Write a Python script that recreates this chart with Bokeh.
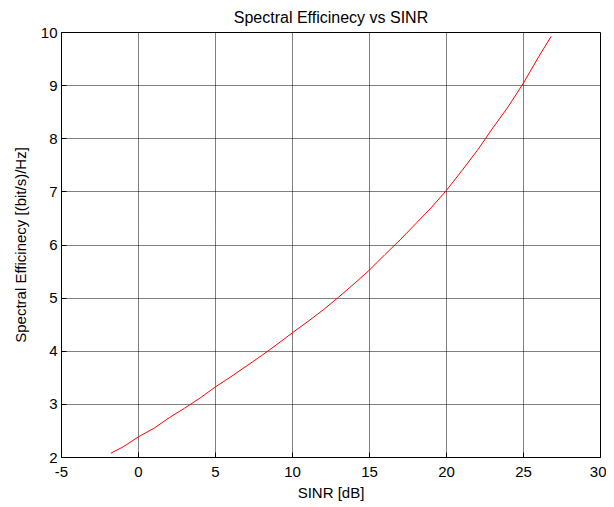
from bokeh.plotting import figure
from bokeh.models import Range1d, FixedTicker, CustomJSTickFormatter
from bokeh.embed import file_html
from bokeh.resources import INLINE

# Data
sinr_db = [-1.8, -1, 0, 1, 2, 3, 4, 5, 6, 7, 8, 9, 10, 11, 12, 13, 14, 15,
           16, 17, 18, 19, 20, 21, 22, 23, 24, 25, 26, 26.8]
spectral_eff = [2.08, 2.2, 2.39, 2.55, 2.75, 2.93, 3.12, 3.33, 3.52, 3.72,
                3.92, 4.13, 4.35, 4.56, 4.78, 5.02, 5.27, 5.53, 5.82, 6.1,
                6.4, 6.7, 7.03, 7.4, 7.78, 8.2, 8.6, 9.05, 9.55, 9.93]
x_ticks = [-5, 0, 5, 10, 15, 20, 25, 30]
y_ticks = [2, 3, 4, 5, 6, 7, 8, 9, 10]

FONT = "Liberation Sans"
FS = "15px"

p = figure(width=606, height=505, output_backend="svg", toolbar_location=None,
           x_range=Range1d(-5, 30), y_range=Range1d(2, 10),
           min_border_left=61, min_border_right=6, min_border_top=31,
           min_border_bottom=48,
           title="Spectral Efficinecy vs SINR")

p.title.text_font = FONT
p.title.text_font_size = "16px"
p.title.text_font_style = "normal"
p.title.text_color = "black"
p.title.align = "center"
p.title.text_line_height = 1.0
p.title.standoff = 13

p.background_fill_color = "white"
p.border_fill_color = "white"
p.outline_line_color = "black"
p.outline_line_width = 1

fmt = CustomJSTickFormatter(code="return tick.toString();")

for ax in (p.xaxis[0], p.yaxis[0]):
    ax.major_label_text_font = FONT
    ax.major_label_text_font_size = FS
    ax.major_label_text_color = "black"
    ax.axis_label_text_font = FONT
    ax.axis_label_text_font_size = FS
    ax.axis_label_text_font_style = "normal"
    ax.axis_label_text_color = "black"
    ax.axis_line_color = "black"
    ax.major_tick_line_color = "black"
    ax.major_tick_in = 5
    ax.major_tick_out = 0
    ax.minor_tick_line_color = None
    ax.formatter = fmt

p.xaxis[0].ticker = FixedTicker(ticks=x_ticks)
p.yaxis[0].ticker = FixedTicker(ticks=y_ticks)
p.xaxis[0].axis_label = "SINR [dB]"
p.yaxis[0].axis_label = "Spectral Efficinecy [(bit/s)/Hz]"
p.xaxis[0].major_label_standoff = 9
p.xaxis[0].axis_label_standoff = 4
p.yaxis[0].major_label_standoff = 4
p.yaxis[0].axis_label_standoff = 9

for g in (p.xgrid[0], p.ygrid[0]):
    g.grid_line_color = "black"
    g.grid_line_dash = "1 1"
    g.grid_line_width = 1
    g.grid_line_alpha = 1.0
p.xgrid[0].ticker = FixedTicker(ticks=x_ticks)
p.ygrid[0].ticker = FixedTicker(ticks=y_ticks)

p.line(sinr_db, spectral_eff, line_color="red", line_width=1)

open("out.html", "w").write(file_html(p, INLINE))
